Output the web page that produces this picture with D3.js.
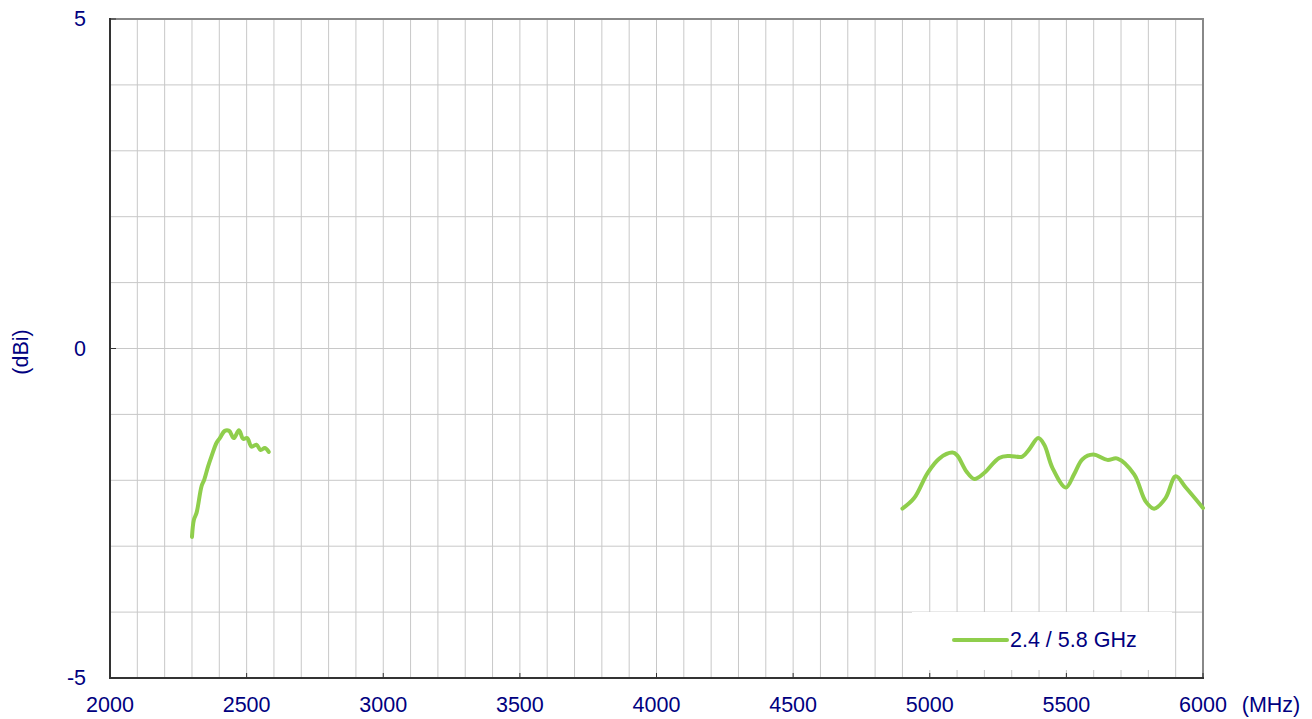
<!DOCTYPE html>
<html lang="en">
<head>
<meta charset="UTF-8">
<title>Gain (dBi)</title>
<script src="https://d3js.org/d3.v7.min.js"></script>
<style>
  body, html { margin: 0; padding: 0; background: #fff; }
  svg { display: block; font-family: Arial, "Liberation Sans", sans-serif; }
  .lbl { fill: #000080; font-size: 21.5px; }
</style>
</head>
<body>
<svg width="1312" height="719"></svg>
<script>
// band 1 (2.4 GHz), MHz / dBi
const freq24 = [2300, 2307, 2317, 2335, 2345, 2359, 2372, 2390, 2402, 2420, 2436, 2453, 2472, 2487, 2502, 2518, 2536, 2551, 2567, 2581];
const gain24 = [-2.86, -2.60, -2.49, -2.09, -1.99, -1.79, -1.63, -1.43, -1.36, -1.25, -1.25, -1.36, -1.24, -1.37, -1.36, -1.49, -1.46, -1.54, -1.51, -1.57];

// band 2 (5.8 GHz)
const freq58 = [4900, 4943, 4992, 5035, 5083, 5100, 5135, 5163, 5199, 5254, 5291, 5339, 5364, 5397, 5419, 5449, 5498, 5528, 5559, 5598, 5650, 5687, 5748, 5790, 5821, 5863, 5900, 5937, 6000];
const gain58 = [-2.43, -2.27, -1.89, -1.67, -1.58, -1.62, -1.87, -1.98, -1.89, -1.66, -1.63, -1.64, -1.53, -1.36, -1.46, -1.81, -2.11, -1.91, -1.68, -1.61, -1.69, -1.67, -1.91, -2.32, -2.43, -2.27, -1.94, -2.11, -2.42];

const xTicks = [2000, 2500, 3000, 3500, 4000, 4500, 5000, 5500, 6000];
const yTicks = [-5, 0, 5];
const seriesName = "2.4 / 5.8 GHz";

const svg = d3.select("svg");
const L = 110, R = 1203, T = 19, B = 678;

const x = d3.scaleLinear().domain([2000, 6000]).range([L, R]);
const y = d3.scaleLinear().domain([-5, 5]).range([B, T]);

// grid
svg.append("g").selectAll("line")
  .data(d3.range(2100, 6000, 100))
  .enter().append("line")
  .attr("x1", d => x(d)).attr("x2", d => x(d))
  .attr("y1", T).attr("y2", B)
  .attr("stroke", "#c8c8c8").attr("stroke-width", 1);
svg.append("g").selectAll("line")
  .data(d3.range(-4, 5, 1))
  .enter().append("line")
  .attr("x1", L).attr("x2", R)
  .attr("y1", d => y(d)).attr("y2", d => y(d))
  .attr("stroke", "#c8c8c8").attr("stroke-width", 1);

// legend box (drawn over grid)
svg.append("rect")
  .attr("x", 912).attr("y", 612).attr("width", 260).attr("height", 58)
  .attr("fill", "#fff");
svg.append("line")
  .attr("x1", 954).attr("x2", 1007).attr("y1", 640).attr("y2", 640)
  .attr("stroke", "#8fce4c").attr("stroke-width", 4).attr("stroke-linecap", "round");
svg.append("text").attr("class", "lbl")
  .attr("x", 1010).attr("y", 647).text(seriesName);

// frame
svg.append("line").attr("x1", L).attr("x2", R + 1).attr("y1", T).attr("y2", T)
  .attr("stroke", "#888").attr("stroke-width", 2);
svg.append("line").attr("x1", R).attr("x2", R).attr("y1", T).attr("y2", B)
  .attr("stroke", "#888").attr("stroke-width", 2);
svg.append("line").attr("x1", L).attr("x2", L).attr("y1", T - 1).attr("y2", B + 1)
  .attr("stroke", "#333").attr("stroke-width", 2);
svg.append("line").attr("x1", L).attr("x2", R + 1).attr("y1", B).attr("y2", B)
  .attr("stroke", "#333").attr("stroke-width", 2);

// inner ticks
svg.append("g").selectAll("line")
  .data(xTicks)
  .enter().append("line")
  .attr("x1", d => x(d)).attr("x2", d => x(d))
  .attr("y1", B).attr("y2", B - 5)
  .attr("stroke", "#333").attr("stroke-width", 1);
svg.append("g").selectAll("line")
  .data(yTicks)
  .enter().append("line")
  .attr("x1", L).attr("x2", L + 6)
  .attr("y1", d => y(d)).attr("y2", d => y(d))
  .attr("stroke", "#333").attr("stroke-width", 1);

// tick labels
svg.append("g").selectAll("text")
  .data(xTicks)
  .enter().append("text").attr("class", "lbl")
  .attr("x", d => x(d)).attr("y", 712)
  .attr("text-anchor", "middle")
  .text(d => d);
svg.append("g").selectAll("text")
  .data(yTicks)
  .enter().append("text").attr("class", "lbl")
  .attr("x", 86).attr("y", d => y(d) + 7)
  .attr("text-anchor", "end")
  .text(d => d);

svg.append("text").attr("class", "lbl")
  .attr("x", 1271).attr("y", 712).attr("text-anchor", "middle").text("(MHz)");
svg.append("text").attr("class", "lbl")
  .attr("transform", "translate(28,352) rotate(-90)")
  .attr("text-anchor", "middle").text("(dBi)");

// curves
const line = d3.line()
  .x(d => x(d[0])).y(d => y(d[1]))
  .curve(d3.curveCatmullRom.alpha(0.5));

[[freq24, gain24], [freq58, gain58]].forEach(([f, g]) => {
  svg.append("path")
    .datum(f.map((v, i) => [v, g[i]]))
    .attr("d", line)
    .attr("fill", "none")
    .attr("stroke", "#8fce4c")
    .attr("stroke-width", 4)
    .attr("stroke-linejoin", "round")
    .attr("stroke-linecap", "round");
});
</script>
</body>
</html>
